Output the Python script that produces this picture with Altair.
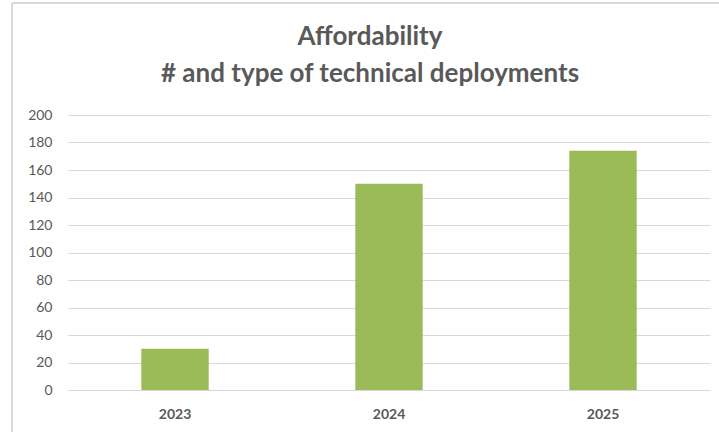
import altair as alt
import pandas as pd

years = ["2023", "2024", "2025"]
values = [30, 150, 174]

df = pd.DataFrame({"year": years, "value": values})

GRID = "#d9d9d9"
TXT = "#595959"
FONT = "Lato"

bars = alt.Chart(df).mark_bar(color="#9bbb59").encode(
    x=alt.X("year:N", sort=years, title=None,
            scale=alt.Scale(paddingInner=0.685, paddingOuter=0.3425),
            axis=alt.Axis(labelAngle=0, labelFontWeight="bold", labelFontSize=14,
                          labelColor=TXT, labelFont=FONT, ticks=False, domain=False,
                          labelPadding=17, grid=False)),
    y=alt.Y("value:Q", title=None,
            scale=alt.Scale(domain=[0, 200], nice=False),
            axis=alt.Axis(values=list(range(0, 201, 20)), labelFontSize=14,
                          labelColor=TXT, labelFont=FONT, ticks=False, domain=False,
                          labelPadding=16, gridColor=GRID, gridWidth=1)),
)

frame_left = alt.Chart(df).mark_rule(color=GRID, strokeWidth=1.5).encode(
    x=alt.value(-56), y=alt.value(-112), y2=alt.value(330)
)
frame_top = alt.Chart(df).mark_rule(color=GRID, strokeWidth=1.5).encode(
    x=alt.value(-56), x2=alt.value(700), y=alt.value(-112)
)

chart = alt.layer(frame_left, frame_top, bars).properties(
    width=642,
    height=275,
    background="white",
    title=alt.TitleParams(
        text=["Affordability", "# and type of technical deployments"],
        font=FONT, fontSize=26, fontWeight="bold", color=TXT,
        anchor="middle", dx=-19, dy=85, lineHeight=37, offset=0,
    ),
    autosize=alt.AutoSizeParams(type="none"),
    padding={"left": 68, "top": 115, "right": 9, "bottom": 42},
).configure_view(stroke=None)

chart.save("out.html", embed_options={"renderer": "svg", "actions": False})
